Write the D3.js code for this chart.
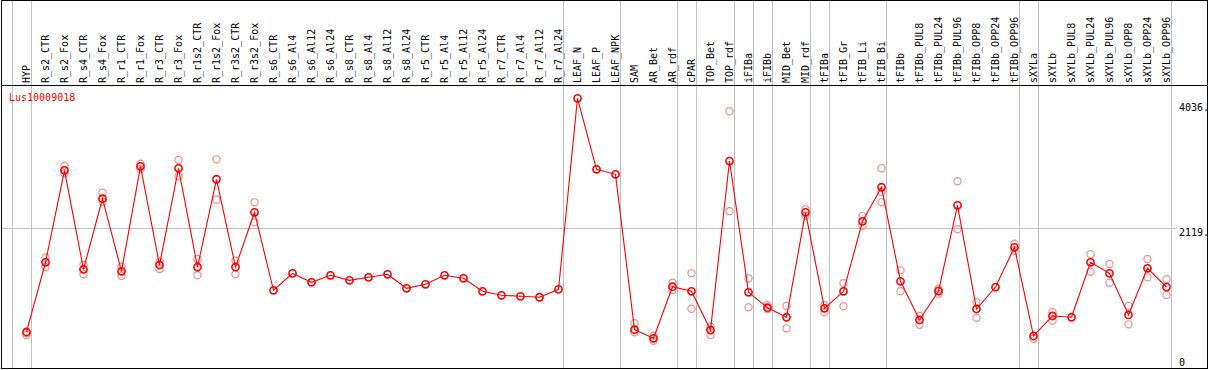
<!DOCTYPE html>
<html>
<head>
<meta charset="utf-8">
<script src="https://cdn.jsdelivr.net/npm/d3@7"></script>
<style>
  body { margin: 0; background: #fff; }
  text { font-family: "DejaVu Sans Mono", monospace; font-size: 10px; }
</style>
</head>
<body>
<script>
var title = "Lus10009018";

var categories = ["HYP",
  "R_s2_CTR","R_s2_Fox","R_s4_CTR","R_s4_Fox","R_r1_CTR","R_r1_Fox","R_r3_CTR","R_r3_Fox",
  "R_r1s2_CTR","R_r1s2_Fox","R_r3s2_CTR","R_r3s2_Fox",
  "R_s6_CTR","R_s6_Al4","R_s6_Al12","R_s6_Al24","R_s8_CTR","R_s8_Al4","R_s8_Al12","R_s8_Al24",
  "R_r5_CTR","R_r5_Al4","R_r5_Al12","R_r5_Al24","R_r7_CTR","R_r7_Al4","R_r7_Al12","R_r7_Al24",
  "LEAF_N","LEAF_P","LEAF_NPK","SAM","AR_Bet","AR_rdf","cPAR","TOP_Bet","TOP_rdf",
  "iFIBa","iFIBb","MID_Bet","MID_rdf","tFIBa","tFIB_Gr","tFIB_Li","tFIB_Bi",
  "tFIBb","tFIBb_PUL8","tFIBb_PUL24","tFIBb_PUL96","tFIBb_OPP8","tFIBb_OPP24","tFIBb_OPP96",
  "sXYLa","sXYLb","sXYLb_PUL8","sXYLb_PUL24","sXYLb_PUL96","sXYLb_OPP8","sXYLb_OPP24","sXYLb_OPP96"];

// sizes of the groups separated by grey lines
var groupSizes = [1, 28, 3, 3, 1, 2, 1, 1, 2, 1, 3, 7, 1, 7];

var means = [590,
  1618, 2974, 1514, 2555, 1485, 3033, 1578, 3004,
  1548, 2842, 1548, 2355,
  1205, 1455, 1323, 1426, 1352, 1396, 1441, 1234,
  1293, 1426, 1382, 1190, 1131, 1116, 1102, 1219,
  4036, 2989, 2915, 624, 497, 1258, 1190, 619, 3111,
  1175, 948, 807, 2355, 939, 1190, 2222, 2724,
  1337, 767, 1194, 2458, 929, 1253, 1839,
  531, 826, 807, 1618, 1455, 841, 1529, 1253];

var replicates = [[546, 575],
  [1685, 1548], [3042, 2930], [1582, 1441], [2644, 2511], [1553, 1420], [3072, 2993], [1626, 1519], [3126, 2886],
  [1666, 1426], [3136, 2541], [1641, 1441], [2502, 2207],
  [], [], [], [], [], [], [], [],
  [], [], [], [], [], [], [], [],
  [], [], [], [718, 585], [535, 462], [1317, 1209], [1455, 933], [668, 546], [3844, 2370],
  [1382, 954], [984, 929], [973, 644], [2399, 2305], [984, 880], [1308, 969], [2300, 2157], [3004, 2659, 2502],
  [1500, 1190], [830, 697], [1224, 1155], [2812, 2104], [1028, 801], [], [1892, 1789],
  [491], [880, 756], [], [1736, 1479], [1593, 1317], [973, 703], [1666, 1396], [1367, 1135]];

var yTicks = [0, 2119, 4036];
var yGrid = [2119];

var width = 1209, height = 370;
var headerY = 85.5, frameBottom = 368.5, frameRight = 1207.5;

var svg = d3.select("body").append("svg")
    .attr("width", width)
    .attr("height", height);

var x = d3.scaleBand()
    .domain(categories)
    .range([11.5, 11.5 + 19 * categories.length]);

var cx = function(c) { return x(c) + 15; };

var y = d3.scaleLinear()
    .domain([0, 4036])
    .range([372, 98.3]);

// group boundaries
var bounds = [0];
groupSizes.forEach(function(s) { bounds.push(bounds[bounds.length - 1] + s); });
var boundX = function(k) { return k < categories.length ? x(categories[k]) : x.range()[1]; };

svg.append("g").selectAll("line")
    .data(bounds)
    .enter().append("line")
    .attr("x1", function(k) { return Math.round(boundX(k)) + 0.5; })
    .attr("x2", function(k) { return Math.round(boundX(k)) + 0.5; })
    .attr("y1", 0)
    .attr("y2", frameBottom)
    .style("stroke", "#c0c0c0")
    .style("stroke-width", 1.3)
    .style("shape-rendering", "crispEdges");

// horizontal grid line
svg.append("g").selectAll("line")
    .data(yGrid)
    .enter().append("line")
    .attr("x1", 1)
    .attr("x2", 1177)
    .attr("y1", function(d) { return Math.round(y(d)) + 0.5; })
    .attr("y2", function(d) { return Math.round(y(d)) + 0.5; })
    .style("stroke", "#c0c0c0")
    .style("stroke-width", 1.3)
    .style("shape-rendering", "crispEdges");

// frame and header line
svg.append("rect")
    .attr("x", 1.5).attr("y", 0.5)
    .attr("width", frameRight - 1.5)
    .attr("height", frameBottom - 0.5)
    .style("fill", "none")
    .style("stroke", "black")
    .style("stroke-width", 1.3)
    .style("shape-rendering", "crispEdges");

svg.append("line")
    .attr("x1", 1).attr("x2", frameRight)
    .attr("y1", headerY).attr("y2", headerY)
    .style("stroke", "black")
    .style("stroke-width", 1.3)
    .style("shape-rendering", "crispEdges");

// category labels
svg.append("g").selectAll("text")
    .data(categories)
    .enter().append("text")
    .attr("transform", function(c) { return "translate(" + (cx(c) + 3) + ",83) rotate(-90)"; })
    .text(function(c) { return c; })
    .style("fill", "black");

// title
svg.append("text")
    .attr("x", 9)
    .attr("y", 101)
    .style("fill", "red")
    .text(title);

// y labels
svg.append("g").selectAll("text")
    .data(yTicks)
    .enter().append("text")
    .attr("x", 1179)
    .attr("y", function(d) { return Math.min(Math.max(y(d) + 8, 111), 366); })
    .style("fill", "black")
    .text(function(d) { return d === 0 ? "0" : d + "."; });

// replicate points
var reps = [];
categories.forEach(function(c, i) {
    replicates[i].forEach(function(v) { reps.push({c: c, v: v}); });
});

svg.append("g").selectAll("circle")
    .data(reps)
    .enter().append("circle")
    .attr("cx", function(d) { return cx(d.c); })
    .attr("cy", function(d) { return y(d.v); })
    .attr("r", 3.6)
    .style("fill", "none")
    .style("stroke", "#f09090")
    .style("stroke-width", 1.2);

// mean line
var line = d3.line()
    .x(function(d, i) { return cx(categories[i]); })
    .y(function(d) { return y(d); });

svg.append("path")
    .datum(means)
    .attr("d", line)
    .style("fill", "none")
    .style("stroke", "red")
    .style("stroke-width", 1.1);

svg.append("g").selectAll("circle")
    .data(means)
    .enter().append("circle")
    .attr("cx", function(d, i) { return cx(categories[i]); })
    .attr("cy", function(d) { return y(d); })
    .attr("r", 3.6)
    .style("fill", "none")
    .style("stroke", "red")
    .style("stroke-width", 1.6);
</script>
</body>
</html>
